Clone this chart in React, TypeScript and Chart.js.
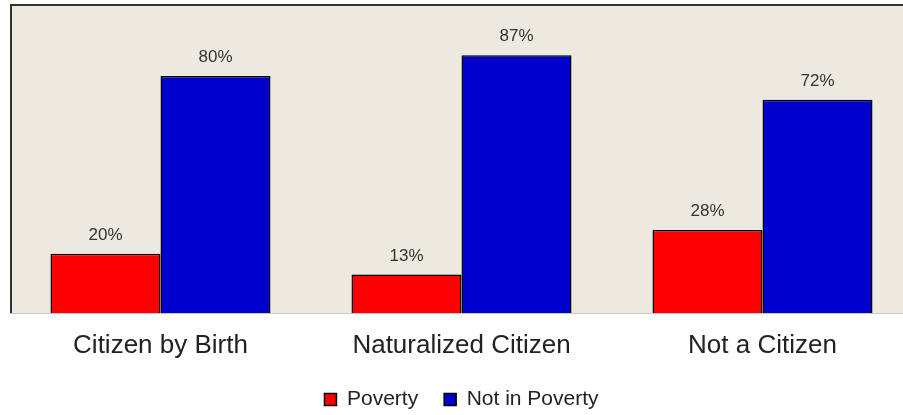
import React, { useEffect, useRef } from "react";
import { Chart, registerables } from "chart.js";

Chart.register(...registerables);

const categories = ["Citizen by Birth", "Naturalized Citizen", "Not a Citizen"];
const povertyValues = [20, 13, 28];
const notPovertyValues = [80, 87, 72];
const seriesNames = ["Poverty", "Not in Poverty"];

const FONT = "'Liberation Sans', Arial, sans-serif";

const plotBg = {
  id: "plotBg",
  beforeDraw(chart: any) {
    const { ctx, chartArea } = chart;
    ctx.save();
    ctx.fillStyle = "#ECE9E0";
    ctx.fillRect(chartArea.left, chartArea.top, chartArea.right - chartArea.left, chartArea.bottom - chartArea.top);
    ctx.strokeStyle = "#C8C8C8";
    ctx.lineWidth = 1;
    ctx.beginPath();
    ctx.moveTo(chartArea.left, chartArea.bottom + 0.5);
    ctx.lineTo(chartArea.right, chartArea.bottom + 0.5);
    ctx.stroke();
    ctx.strokeStyle = "#333333";
    ctx.lineWidth = 2;
    ctx.beginPath();
    ctx.moveTo(chartArea.left + 1, chartArea.bottom);
    ctx.lineTo(chartArea.left + 1, chartArea.top);
    ctx.lineTo(chartArea.right, chartArea.top);
    ctx.stroke();
    ctx.restore();
  },
};

const valueLabels = {
  id: "valueLabels",
  afterDatasetsDraw(chart: any) {
    const { ctx } = chart;
    ctx.save();
    ctx.font = `17px ${FONT}`;
    ctx.fillStyle = "#333333";
    ctx.textAlign = "center";
    ctx.textBaseline = "alphabetic";
    chart.data.datasets.forEach((ds: any, i: number) => {
      const meta = chart.getDatasetMeta(i);
      meta.data.forEach((bar: any, j: number) => {
        ctx.fillText(`${ds.data[j]}%`, bar.x, bar.y - 14);
      });
    });
    ctx.restore();
  },
};

export default function App() {
  const ref = useRef<HTMLCanvasElement>(null);
  useEffect(() => {
    if (!ref.current) return;
    const chart = new Chart(ref.current, {
      type: "bar",
      data: {
        labels: categories,
        datasets: [
          {
            label: seriesNames[0],
            data: povertyValues,
            backgroundColor: "#FF0000",
            borderColor: "#000000",
            borderWidth: 1.5,
            barPercentage: 1,
            categoryPercentage: 0.731,
          },
          {
            label: seriesNames[1],
            data: notPovertyValues,
            backgroundColor: "#0000CC",
            borderColor: "#000000",
            borderWidth: 1.5,
            barPercentage: 1,
            categoryPercentage: 0.731,
          },
        ],
      },
      options: {
        responsive: false,
        animation: false,
        devicePixelRatio: 1,
        layout: { padding: { left: 10, right: 7, top: 5, bottom: -5 } },
        scales: {
          x: {
            grid: { display: false, drawTicks: false },
            border: { display: false },
            ticks: { color: "#222222", font: { family: FONT, size: 26 }, padding: 17 },
            afterFit: (scale: any) => {
              scale.height = 50;
            },
          },
          y: {
            display: false,
            min: 0,
            max: 104,
          },
        },
        plugins: {
          legend: {
            position: "bottom",
            labels: {
              boxWidth: 12,
              boxHeight: 12,
              padding: 26,
              color: "#222222",
              font: { family: FONT, size: 21 },
            },
          },
          tooltip: { enabled: false },
        },
      },
      plugins: [plotBg, valueLabels],
    });
    return () => chart.destroy();
  }, []);
  return (
    <div style={{ position: "fixed", left: 0, top: 0, width: 903, height: 415, overflow: "hidden", background: "#fff" }}>
      <canvas ref={ref} width={920} height={415} style={{ display: "block" }} />
    </div>
  );
}
